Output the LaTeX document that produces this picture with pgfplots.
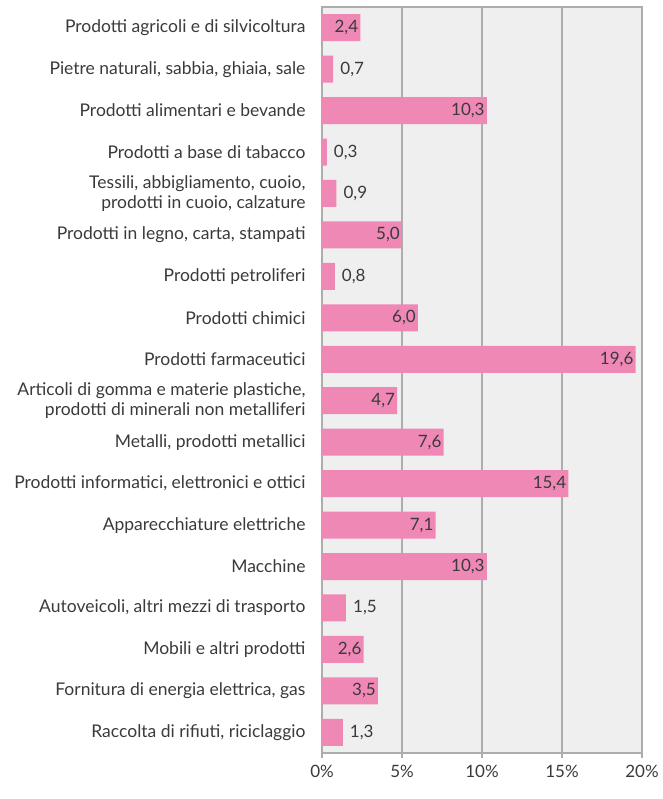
\documentclass[border=0pt]{standalone}
\usepackage{fontspec}
\setmainfont{Lato}
\usepackage{pgfplots}
\pgfplotsset{compat=1.18}
\definecolor{barpink}{HTML}{EF88B5}
\definecolor{bggrey}{HTML}{EFEFEF}
\definecolor{gline}{HTML}{ADADAD}
\definecolor{txt}{HTML}{3A3A3A}

% values above 2 carry their label inside the bar
\pgfplotstableread{
y val
0 2.4
2 10.3
5 5.0
7 6.0
8 19.6
9 4.7
10 7.6
11 15.4
12 7.1
13 10.3
15 2.6
16 3.5
}\inside
\pgfplotstableread{
y val
1 0.7
3 0.3
4 0.9
6 0.8
14 1.5
17 1.3
}\outside

\begin{document}
\begin{tikzpicture}
\begin{axis}[
  name=ax,
  xbar, bar shift=0pt, bar width=27pt,
  scale only axis, width=320pt, height=746pt,
  xmin=0, xmax=20, ymin=-0.5, ymax=17.5, y dir=reverse,
  axis background/.style={fill=bggrey},
  axis line style={gline, line width=1.5pt},
  xmajorgrids, grid style={gline, line width=1.2pt},
  xtick={0,5,10,15,20},
  xticklabel={\pgfmathprintnumber{\tick}\%},
  /pgf/number format/assume math mode=true,
  x tick style={gline, line width=1.2pt},
  xtick pos=bottom, xtick align=outside, major tick length=5pt,
  ytick={0,...,17}, y tick style={draw=none},
  yticklabels={
    Prodotti agricoli e di silvicoltura,
    {Pietre naturali, sabbia, ghiaia, sale},
    Prodotti alimentari e bevande,
    Prodotti a base di tabacco,
    {Tessili, abbigliamento, cuoio,\\prodotti in cuoio, calzature},
    {Prodotti in legno, carta, stampati},
    Prodotti petroliferi,
    Prodotti chimici,
    Prodotti farmaceutici,
    {Articoli di gomma e materie plastiche,\\prodotti di minerali non metalliferi},
    {Metalli, prodotti metallici},
    {Prodotti informatici, elettronici e ottici},
    Apparecchiature elettriche,
    Macchine,
    {Autoveicoli, altri mezzi di trasporto},
    Mobili e altri prodotti,
    {Fornitura di energia elettrica, gas},
    {Raccolta di rifiuti, riciclaggio}},
  yticklabel style={align=right, font=\fontsize{17.5}{19.5}\selectfont, text=txt, xshift=-8pt},
  xticklabel style={font=\fontsize{17}{19}\selectfont, text=txt, yshift=-4pt},
  point meta=x,
  nodes near coords={\pgfmathprintnumber[fixed,fixed zerofill,precision=1,use comma]{\pgfplotspointmeta}},
  nodes near coords style={font=\fontsize{17}{19}\selectfont, text=txt},
]
\addplot[fill=barpink, draw=none,
  nodes near coords style={anchor=east, inner xsep=2pt}]
  table[x=val, y=y] {\inside};
\addplot[fill=barpink, draw=none,
  nodes near coords style={anchor=west, inner xsep=7pt}]
  table[x=val, y=y] {\outside};
\end{axis}
\path (ax.north) ++(0,7pt);
\path (ax.south) ++(0,-46pt);
\path (ax.south west) ++(-322pt,0);
\end{tikzpicture}
\end{document}
